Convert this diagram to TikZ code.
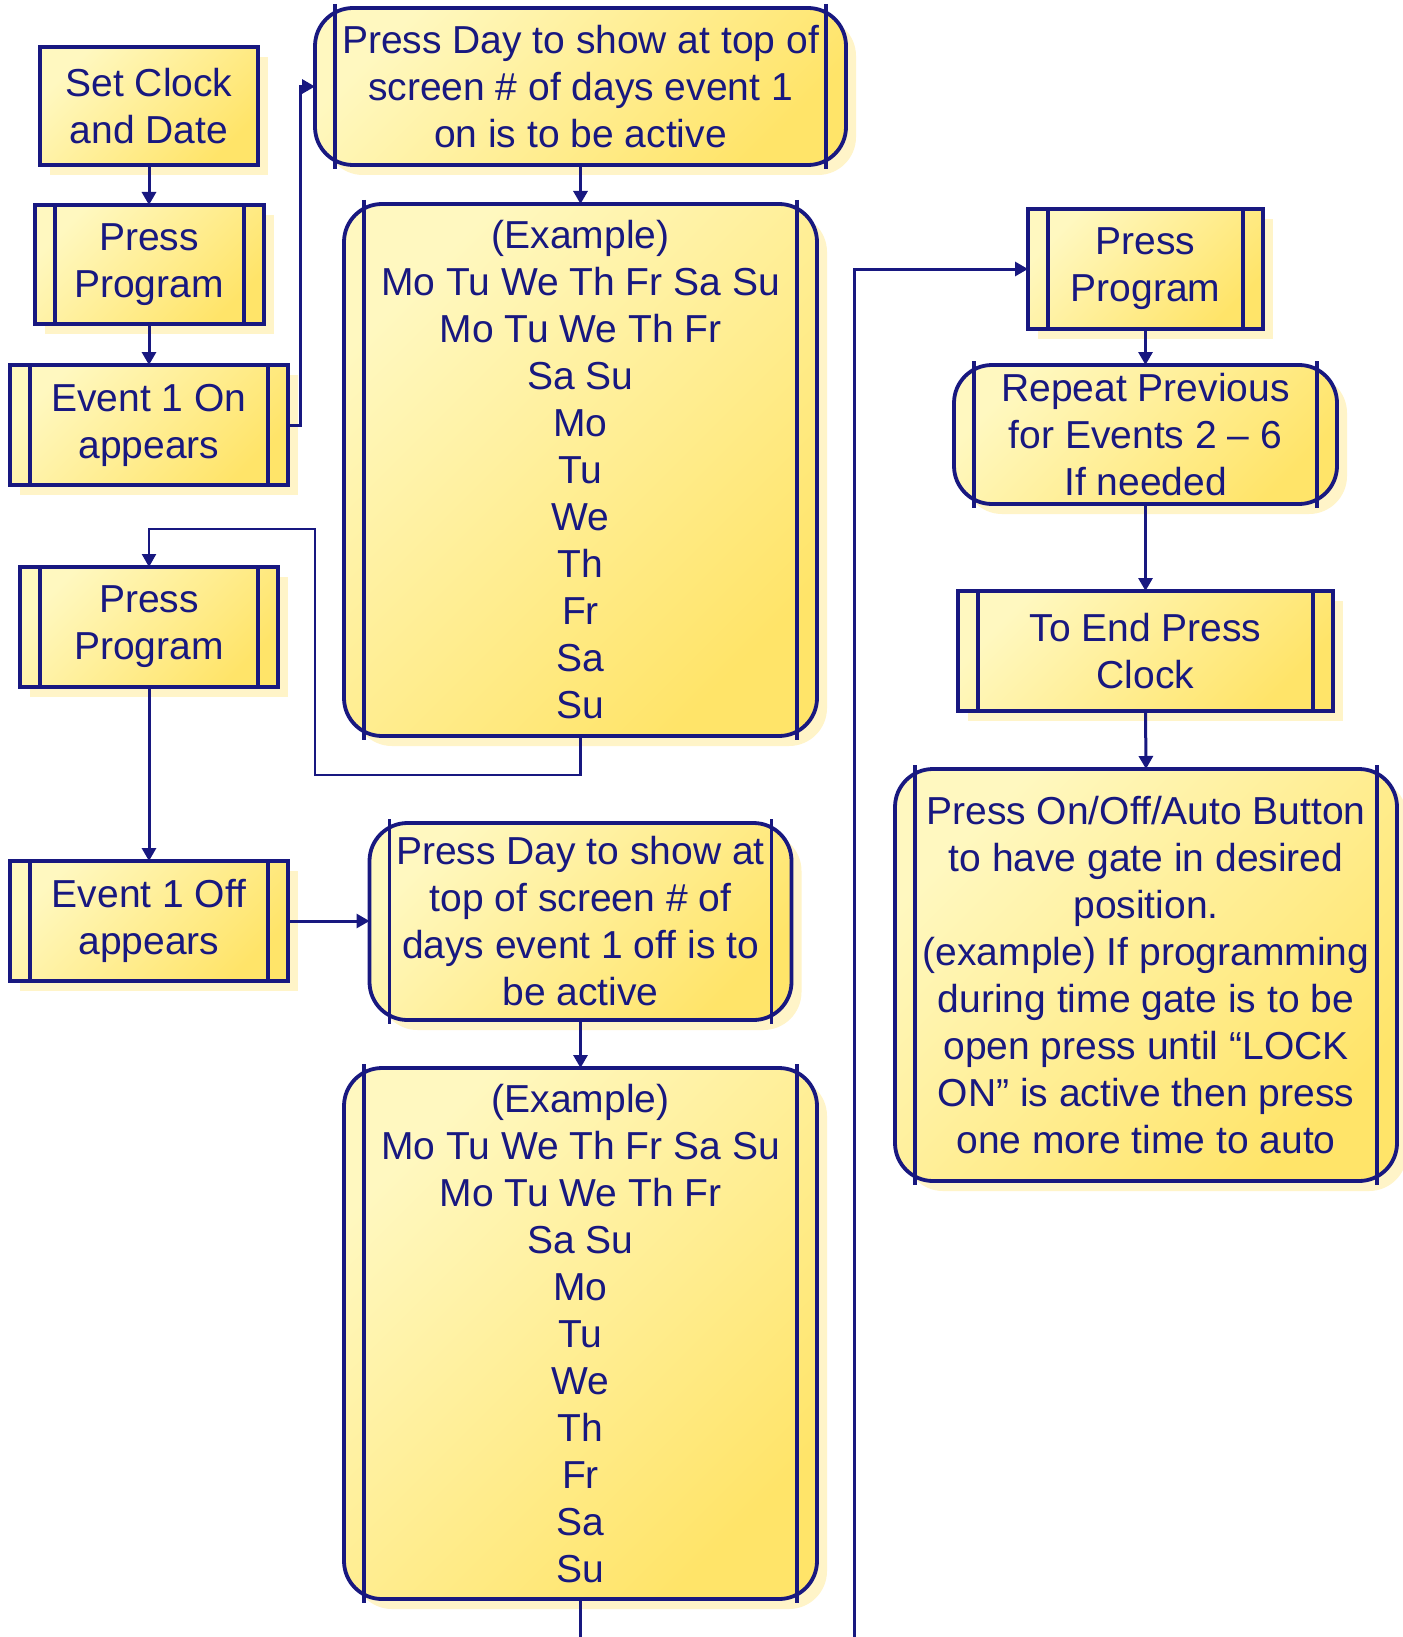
\documentclass[tikz,border=0pt]{standalone}
\usepackage{fontspec}
\setmainfont{Liberation Sans}
\usetikzlibrary{arrows.meta,shadows}
\definecolor{navy}{RGB}{24,24,128}
\definecolor{ylight}{RGB}{255,248,192}
\definecolor{ydark}{RGB}{255,228,105}
\definecolor{shadowc}{RGB}{255,244,200}
\begin{document}
\begin{tikzpicture}[x=1pt,y=-1pt,
  box/.style={draw=navy, line width=4pt, top color=ylight, bottom color=ydark, shading angle=45,
    text=navy, font=\fontsize{39}{47}\selectfont, align=center, inner sep=0pt, outer sep=0pt,
    drop shadow={shadow xshift=10pt, shadow yshift=-10pt, fill=shadowc, opacity=1}},
  rbox/.style={box, rounded corners=38pt, line width=3.8pt},
  conn/.style={draw=navy, line width=3pt, -{Triangle[length=13pt,width=14pt]}},
  plainline/.style={draw=navy, line width=3pt},
  bar/.style={draw=navy, line width=4pt},
  rbar/.style={draw=navy, line width=3.4pt},
]
\fill[white] (0,0) rectangle (1402,1637);
\useasboundingbox (0,0) rectangle (1402,1637);

% left column
\node[box, minimum width=218pt, minimum height=118pt] (sc) at (149,106) {Set Clock\\and Date};
\node[box, minimum width=229pt, minimum height=119pt] (pp1) at (149,264.5) {Press\\Program};
\node[box, minimum width=278pt, minimum height=120pt] (ev1on) at (149,425) {Event 1 On\\appears};
\node[box, minimum width=258pt, minimum height=120pt] (pp2) at (149,627) {Press\\Program};
\node[box, minimum width=278pt, minimum height=120pt] (ev1off) at (149,921) {Event 1 Off\\appears};

% middle column
\node[rbox, minimum width=531pt, minimum height=157pt] (pd1) at (580.5,86.5)
  {Press Day to show at top of\\screen \# of days event 1\\on is to be active};
\node[rbox, minimum width=473pt, minimum height=532pt] (ex1) at (580.5,470)
  {(Example)\\Mo Tu We Th Fr Sa Su\\Mo Tu We Th Fr\\Sa Su\\Mo\\Tu\\We\\Th\\Fr\\Sa\\Su};
\node[rbox, minimum width=422pt, minimum height=197pt] (pd2) at (580.5,921.5)
  {Press Day to show at\\top of screen \# of\\days event 1 off is to\\be active};
\node[rbox, minimum width=473pt, minimum height=531pt] (ex2) at (580.5,1333.5)
  {(Example)\\Mo Tu We Th Fr Sa Su\\Mo Tu We Th Fr\\Sa Su\\Mo\\Tu\\We\\Th\\Fr\\Sa\\Su};

% right column
\node[box, minimum width=235pt, minimum height=120pt] (pp3) at (1145.5,269) {Press\\Program};
\node[rbox, minimum width=383pt, minimum height=139pt] (rep) at (1145.5,434.5)
  {Repeat Previous\\for Events 2 – 6\\If needed};
\node[box, minimum width=375pt, minimum height=120pt] (toend) at (1145.5,651) {To End Press\\Clock};
\node[rbox, minimum width=502pt, minimum height=412pt] (onoff) at (1146,975)
  {Press On/Off/Auto Button\\to have gate in desired\\position.\\(example) If programming\\during time gate is to be\\open press until “LOCK\\ON” is active then press\\one more time to auto};

% inner bars
\foreach \n in {pp1,ev1on,pp2,ev1off,pp3,toend}{
  \draw[bar] ([xshift=20pt]\n.north west) -- ([xshift=20pt]\n.south west);
  \draw[bar] ([xshift=-20pt]\n.north east) -- ([xshift=-20pt]\n.south east);
}
\foreach \n in {pd1,ex1,pd2,ex2,rep,onoff}{
  \draw[rbar] ([xshift=20pt,yshift=4pt]\n.north west) -- ([xshift=20pt,yshift=-4pt]\n.south west);
  \draw[rbar] ([xshift=-20pt,yshift=4pt]\n.north east) -- ([xshift=-20pt,yshift=-4pt]\n.south east);
}

% connectors
\draw[conn] (sc.south) -- (pp1.north);
\draw[conn] (pp1.south) -- (ev1on.north);
\draw[conn] (ev1on.east) -- ++(12,0) |- (pd1.west);
\draw[conn] (pd1.south) -- (ex1.north);
\draw[conn, line width=2.4pt] (ex1.south) -- ++(0,39) -| (315,529) -| (pp2.north);
\draw[conn] (pp2.south) -- (ev1off.north);
\draw[conn] (ev1off.east) -- (ev1off.east -| pd2.west);
\draw[conn] (pd2.south) -- (ex2.north);
\coordinate (out1) at (580.5,1637);
\draw[plainline] (ex2.south) -- (out1);
\coordinate (in1) at (854,1637);
\draw[conn] (in1) |- (pp3.west);
\draw[conn] (pp3.south) -- (rep.north);
\draw[conn] (rep.south) -- (toend.north);
\draw[conn] (toend.south) -- (onoff.north);
\end{tikzpicture}
\end{document}
